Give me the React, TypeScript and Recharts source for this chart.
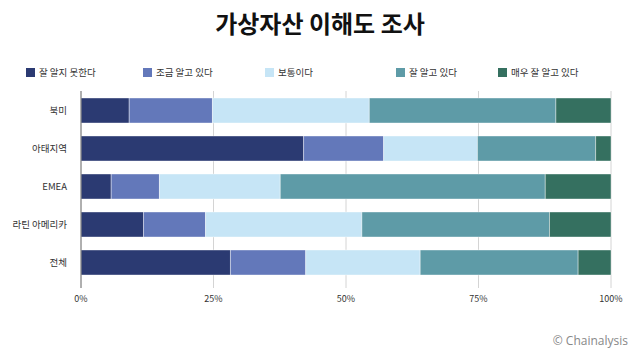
import React from 'react'
import { BarChart, Bar, XAxis, YAxis, CartesianGrid } from 'recharts'

const categories = ['북미', '아태지역', 'EMEA', '라틴 아메리카', '전체']
const notKnow = [9.1, 42.0, 5.7, 11.8, 28.2]
const littleKnow = [15.7, 15.1, 9.1, 11.7, 14.2]
const average = [29.6, 17.7, 22.8, 29.5, 21.6]
const knowWell = [35.2, 22.3, 50.0, 35.4, 29.8]
const knowVeryWell = [10.4, 2.9, 12.4, 11.6, 6.2]
const xTicks = [0, 0.25, 0.5, 0.75, 1]

const SERIES = [
    { key: 'notKnow', name: '잘 알지 못한다', color: '#2B3A72' },
    { key: 'littleKnow', name: '조금 알고 있다', color: '#6378BA' },
    { key: 'average', name: '보통이다', color: '#C6E5F6' },
    { key: 'knowWell', name: '잘 알고 있다', color: '#5E9BA7' },
    { key: 'knowVeryWell', name: '매우 잘 알고 있다', color: '#357060' },
]

const data = categories.map((name, i) => ({
    name,
    notKnow: notKnow[i],
    littleKnow: littleKnow[i],
    average: average[i],
    knowWell: knowWell[i],
    knowVeryWell: knowVeryWell[i],
}))

const FONT = '"Noto Sans CJK KR", "Noto Sans", sans-serif'
const LEGEND_X = [26, 143, 265, 396, 498]

// y labels, kept on one line
const CategoryTick = (props: any) => {
    const { x, y, payload } = props
    return (
        <text x={x - 6} y={y} dy={3.5} textAnchor="end" fontSize={9.5} fill="#333" fontFamily={FONT}>
            {payload.value}
        </text>
    )
}

export default function App() {
    return (
        <div style={{ position: 'absolute', left: 0, top: 0, width: 640, height: 359, background: '#fff', fontFamily: FONT }}>
            <div style={{ position: 'absolute', top: 5, width: 640, textAlign: 'center', fontSize: 24, fontWeight: 700, color: '#111' }}>
                가상자산 이해도 조사
            </div>
            <div style={{ position: 'absolute', top: 65, left: 0, width: 640, height: 14 }}>
                {SERIES.map((s, i) => (
                    <div
                        key={s.key}
                        style={{
                            position: 'absolute',
                            left: LEGEND_X[i],
                            top: 0,
                            display: 'flex',
                            alignItems: 'center',
                            fontSize: 9.5,
                            color: '#333',
                            whiteSpace: 'nowrap',
                        }}
                    >
                        <span style={{ width: 9, height: 9, background: s.color, display: 'inline-block', marginRight: 4 }} />
                        {s.name}
                    </div>
                ))}
            </div>
            <BarChart
                width={640}
                height={359}
                data={data}
                layout="vertical"
                stackOffset="expand"
                barSize={25}
                margin={{ top: 91, right: 29, bottom: 41, left: 0 }}
            >
                <CartesianGrid horizontal={false} stroke="#d4d4d4" />
                <XAxis
                    type="number"
                    domain={[0, 1]}
                    ticks={xTicks}
                    tickFormatter={(v) => `${Math.round(v * 100)}%`}
                    axisLine={false}
                    tickLine={false}
                    tick={{ fontSize: 9, fill: '#333', fontFamily: FONT }}
                    height={30}
                />
                <YAxis
                    type="category"
                    dataKey="name"
                    width={81}
                    axisLine={{ stroke: '#777' }}
                    tickLine={false}
                    tick={<CategoryTick />}
                    padding={{ top: 0, bottom: 7 }}
                />
                {SERIES.map((s) => (
                    <Bar key={s.key} dataKey={s.key} name={s.name} stackId="a" fill={s.color} stroke="#fff" strokeWidth={0.4} isAnimationActive={false} />
                ))}
            </BarChart>
            <div style={{ position: 'absolute', right: 12, top: 332, fontSize: 12, color: '#888', fontFamily: '"Open Sans", sans-serif' }}>
                © Chainalysis
            </div>
        </div>
    )
}
